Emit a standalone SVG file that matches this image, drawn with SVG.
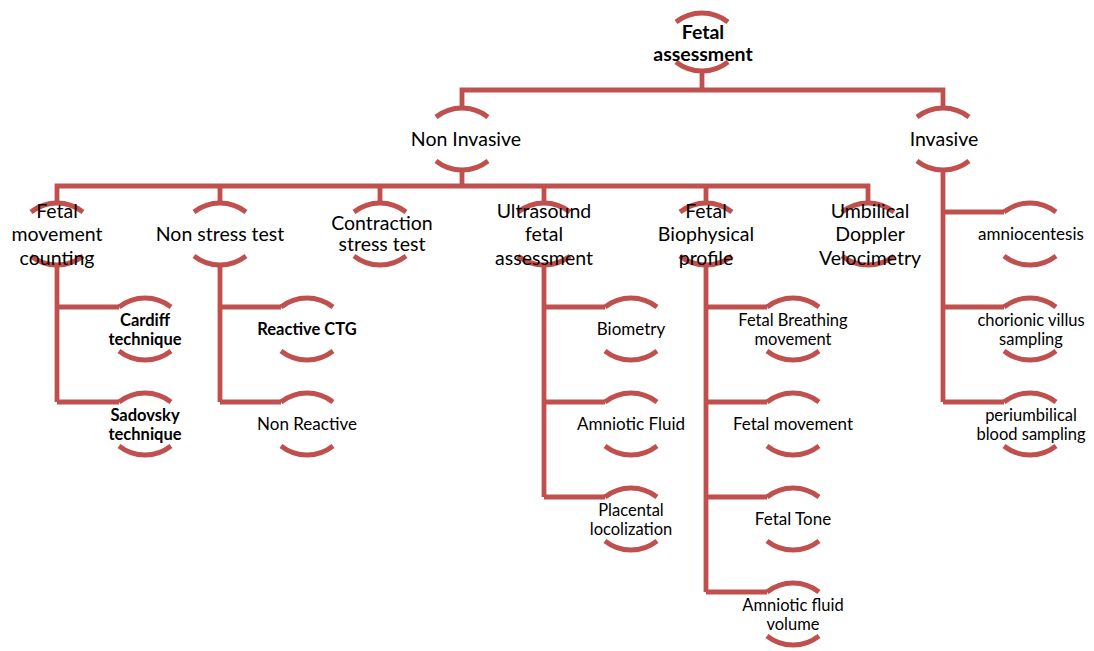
<svg xmlns="http://www.w3.org/2000/svg" xmlns:xlink="http://www.w3.org/1999/xlink" width="1094" height="651" viewBox="0 0 1094 651">
<style>
.ln{fill:none;stroke:#C0504D;stroke-width:4.8}
text{font-family:Lato,"Liberation Sans",sans-serif;fill:#000;text-anchor:middle}
.t0{font-size:19.5px;font-weight:bold}
.t1{font-size:19.5px}
.t2{font-size:17px}
.t3{font-size:16.5px}
.b2{font-size:16.5px;font-weight:bold}
</style>
<defs>
<g id="arcs">
<path class="ln" d="M-26 -22 A42 42 0 0 1 26 -22"/>
<path class="ln" d="M-26 22 A42 42 0 0 0 26 22"/>
</g>
<g id="arcs0">
<path class="ln" d="M-26 -20 A42 42 0 0 1 26 -20"/>
<path class="ln" d="M-26 20 A42 42 0 0 0 26 20"/>
</g>
</defs>
<rect width="1094" height="651" fill="#fff"/>
<g id="connectors">
<path class="ln" d="M702 71 V90 M462 108 V90 H943 V108"/>
<path class="ln" d="M462 170 V186 M57 203 V186 H868 V203 M220 186 V203 M380 186 V203 M544 186 V203 M706 186 V203"/>
<path class="ln" d="M943 170 V402 M943 212 H1004 M943 307 H1004 M943 402 H1004"/>
<path class="ln" d="M57 265 V402 M57 307 H119 M57 402 H119"/>
<path class="ln" d="M220 265 V402 M220 307 H281 M220 402 H281"/>
<path class="ln" d="M544 265 V497 M544 307 H605 M544 402 H605 M544 497 H605"/>
<path class="ln" d="M706 265 V592 M706 307 H767 M706 402 H767 M706 497 H767 M706 592 H767"/>
</g>
<g id="n-fetal-assessment"><use xlink:href="#arcs0" x="702" y="42"/><text class="t0" x="703" y="39">Fetal</text><text class="t0" x="703" y="61">assessment</text></g>
<g id="n-non-invasive"><use xlink:href="#arcs" x="462" y="139"/><text class="t1" x="466" y="146">Non Invasive</text></g>
<g id="n-invasive"><use xlink:href="#arcs" x="943" y="139"/><text class="t1" x="944" y="146">Invasive</text></g>
<g id="n-fmc"><use xlink:href="#arcs" x="57" y="234"/><text class="t1" x="57" y="218">Fetal</text><text class="t1" x="57" y="241">movement</text><text class="t1" x="57" y="265">counting</text></g>
<g id="n-nst"><use xlink:href="#arcs" x="220" y="234"/><text class="t1" x="220" y="241">Non stress test</text></g>
<g id="n-cst"><use xlink:href="#arcs" x="380" y="234"/><text class="t1" x="382" y="230">Contraction</text><text class="t1" x="382" y="251">stress test</text></g>
<g id="n-ufa"><use xlink:href="#arcs" x="544" y="234"/><text class="t1" x="544" y="218">Ultrasound</text><text class="t1" x="544" y="241">fetal</text><text class="t1" x="544" y="265">assessment</text></g>
<g id="n-fbp"><use xlink:href="#arcs" x="706" y="234"/><text class="t1" x="706" y="218">Fetal</text><text class="t1" x="706" y="241">Biophysical</text><text class="t1" x="706" y="265">profile</text></g>
<g id="n-udv"><use xlink:href="#arcs" x="868" y="234"/><text class="t1" x="870" y="218">Umbilical</text><text class="t1" x="870" y="241">Doppler</text><text class="t1" x="870" y="265">Velocimetry</text></g>
<g id="n-cardiff"><use xlink:href="#arcs" x="145" y="329"/><text class="b2" x="145" y="325.5">Cardiff</text><text class="b2" x="145" y="344.5">technique</text></g>
<g id="n-sadovsky"><use xlink:href="#arcs" x="145" y="424"/><text class="b2" x="145" y="420.5">Sadovsky</text><text class="b2" x="145" y="439.5">technique</text></g>
<g id="n-reactive"><use xlink:href="#arcs" x="307" y="329"/><text class="b2" x="307" y="335">Reactive CTG</text></g>
<g id="n-nonreactive"><use xlink:href="#arcs" x="307" y="424"/><text class="t2" x="307" y="430">Non Reactive</text></g>
<g id="n-biometry"><use xlink:href="#arcs" x="631" y="329"/><text class="t2" x="631" y="335">Biometry</text></g>
<g id="n-amniotic"><use xlink:href="#arcs" x="631" y="424"/><text class="t2" x="631" y="430">Amniotic Fluid</text></g>
<g id="n-placental"><use xlink:href="#arcs" x="631" y="519"/><text class="t3" x="631" y="515.5">Placental</text><text class="t3" x="631" y="534.5">locolization</text></g>
<g id="n-breathing"><use xlink:href="#arcs" x="793" y="329"/><text class="t3" x="793" y="325.5">Fetal Breathing</text><text class="t3" x="793" y="344.5">movement</text></g>
<g id="n-fetalmovement"><use xlink:href="#arcs" x="793" y="424"/><text class="t2" x="793" y="430">Fetal movement</text></g>
<g id="n-tone"><use xlink:href="#arcs" x="793" y="519"/><text class="t2" x="793" y="525">Fetal Tone</text></g>
<g id="n-afv"><use xlink:href="#arcs" x="793" y="614"/><text class="t3" x="793" y="610.5">Amniotic fluid</text><text class="t3" x="793" y="629.5">volume</text></g>
<g id="n-amniocentesis"><use xlink:href="#arcs" x="1030" y="234"/><text class="t2" x="1031" y="240">amniocentesis</text></g>
<g id="n-cvs"><use xlink:href="#arcs" x="1030" y="329"/><text class="t3" x="1031" y="325.5">chorionic villus</text><text class="t3" x="1031" y="344.5">sampling</text></g>
<g id="n-pubs"><use xlink:href="#arcs" x="1030" y="424"/><text class="t3" x="1031" y="420.5">periumbilical</text><text class="t3" x="1031" y="439.5">blood sampling</text></g>
</svg>
